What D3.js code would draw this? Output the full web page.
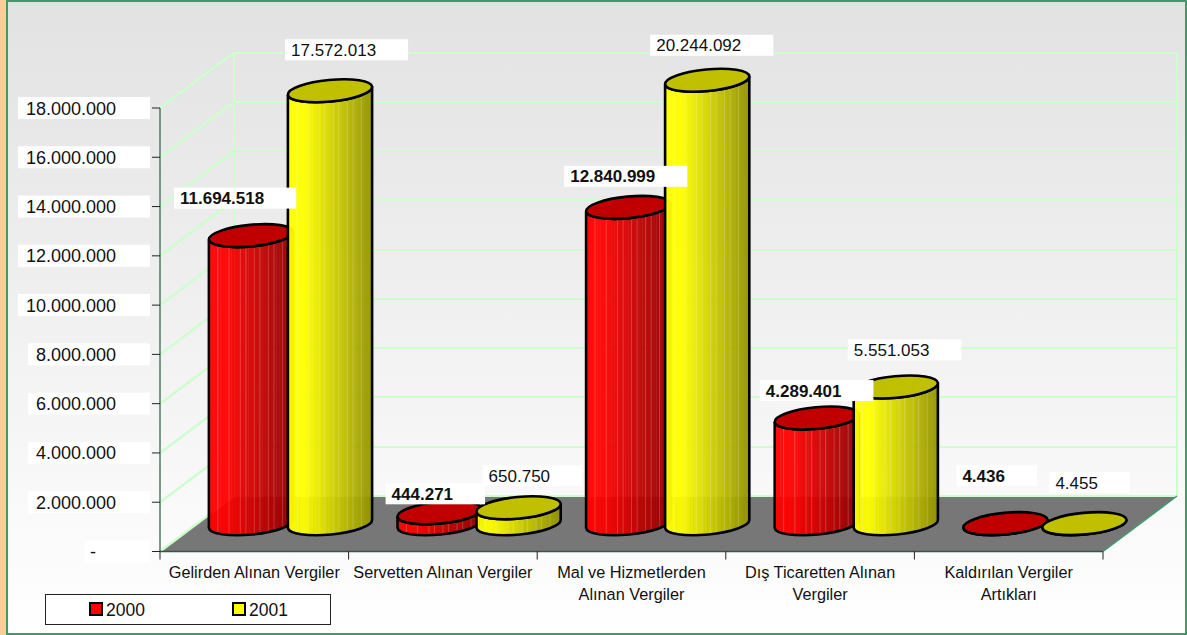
<!DOCTYPE html>
<html>
<head>
<meta charset="utf-8">
<script src="https://cdnjs.cloudflare.com/ajax/libs/d3/7.8.5/d3.min.js"></script>
<style>
  html, body { margin: 0; padding: 0; background: #fff; }
  text { font-family: "Liberation Sans", Arial, sans-serif; fill: #111; }
</style>
</head>
<body>
<div id="wrapper"></div>
<script>
// DATA
const categories = [
  ["Gelirden Alınan Vergiler"],
  ["Servetten Alınan Vergiler"],
  ["Mal ve Hizmetlerden", "Alınan Vergiler"],
  ["Dış Ticaretten Alınan", "Vergiler"],
  ["Kaldırılan Vergiler", "Artıkları"]
]
const series = ["2000", "2001"]
const values2000 = [11694518, 444271, 12840999, 4289401, 4436]
const values2001 = [17572013, 650750, 20244092, 5551053, 4455]
const yTicks = [0, 2000000, 4000000, 6000000, 8000000, 10000000, 12000000, 14000000, 16000000, 18000000]

// label boxes were dragged by hand in the original, so they sit off the bar tops
// [box left from bar centre, box middle from bar top]
const labelOffsets2000 = [[-77, -37.5], [-54, -19], [-64, -31], [-57, -27.5], [-49, -48]]
const labelOffsets2001 = [[-45, -41], [-36, -32], [-57, -35], [-48, -37], [-35, -41]]

// Dimensions
const dimensions = { width: 1187, height: 635, left: 160, right: 1103, top: 108, bottom: 551.5, depthX: 74, depthY: 55.5 }

const svg = d3.select("#wrapper").append("svg")
  .attr("width", dimensions.width)
  .attr("height", dimensions.height)
  .style("display", "block")

const defs = svg.append("defs")
const bgGradient = defs.append("linearGradient").attr("id", "bg").attr("x1", 0).attr("x2", 0).attr("y1", 0).attr("y2", 1)
bgGradient.append("stop").attr("offset", "0%").attr("stop-color", "#e2e2e2")
bgGradient.append("stop").attr("offset", "100%").attr("stop-color", "#ffffff")

// Frame
svg.append("rect").attr("width", 6).attr("height", dimensions.height).attr("fill", "#ffcc99")
svg.append("rect")
  .attr("x", 7).attr("y", 1)
  .attr("width", 1179).attr("height", 633)
  .attr("fill", "url(#bg)")
  .attr("stroke", "#3d9b6e")
  .attr("stroke-width", 2)

// Scales
const yScale = d3.scaleLinear()
  .domain([0, 18000000])
  .range([dimensions.bottom, dimensions.top])
  .clamp(true)   // 20.244.092 is cut off at the axis maximum
const xScale = d3.scaleBand()
  .domain(d3.range(categories.length))
  .range([dimensions.left, dimensions.right])
const seriesScale = d3.scaleBand()
  .domain(series)
  .range([51.5, 209.5])

const wallTop = yScale(18000000) - dimensions.depthY
const wallBottom = yScale(0) - dimensions.depthY

// FLOOR
svg.append("path")
  .attr("fill", "#777777")
  .attr("d", d3.line()([
    [dimensions.left, dimensions.bottom],
    [dimensions.left + dimensions.depthX, wallBottom],
    [dimensions.right + dimensions.depthX, wallBottom],
    [dimensions.right, dimensions.bottom]
  ]) + "Z")

// WALLS
const grid = svg.append("g").attr("fill", "none").attr("stroke", "#ccffcc").attr("stroke-width", 2)
yTicks.forEach(t => {
  const y = yScale(t)
  grid.append("line")
    .attr("x1", dimensions.left).attr("y1", y)
    .attr("x2", dimensions.left + dimensions.depthX).attr("y2", y - dimensions.depthY)
    .attr("stroke-width", 2.4)
  grid.append("line")
    .attr("x1", dimensions.left + dimensions.depthX).attr("y1", Math.round(y - dimensions.depthY))
    .attr("x2", dimensions.right + dimensions.depthX).attr("y2", Math.round(y - dimensions.depthY))
    .attr("shape-rendering", "crispEdges")
})
grid.append("line")
  .attr("x1", dimensions.left + dimensions.depthX).attr("x2", dimensions.left + dimensions.depthX)
  .attr("y1", wallTop).attr("y2", wallBottom)
  .attr("shape-rendering", "crispEdges")
grid.append("line")
  .attr("x1", dimensions.right + dimensions.depthX).attr("x2", dimensions.right + dimensions.depthX)
  .attr("y1", wallTop).attr("y2", wallBottom)
  .attr("shape-rendering", "crispEdges")
svg.append("line")
  .attr("x1", dimensions.right).attr("y1", dimensions.bottom)
  .attr("x2", dimensions.right + dimensions.depthX).attr("y2", wallBottom)
  .attr("stroke", "#3d9b6e").attr("stroke-width", 1.5)

// AXES
const yAxis = svg.append("g")
yAxis.append("line")
  .attr("x1", dimensions.left).attr("x2", dimensions.left)
  .attr("y1", dimensions.top).attr("y2", dimensions.bottom)
  .attr("stroke", "#4f7a62").attr("stroke-width", 1.5)
const formatTick = d => d === 0 ? "-" : d3.format(",")(d).replace(/,/g, ".")
yTicks.forEach(t => {
  const y = yScale(t)
  const g = yAxis.append("g")
  const label = g.append("text")
    .attr("x", t === 0 ? 96 : 116).attr("y", y + 6.5)
    .attr("text-anchor", "end")
    .attr("font-size", 18)
    .text(formatTick(t))
  const box = label.node().getBBox()
  g.insert("rect", "text")
    .attr("x", t === 0 ? 84 : box.x - 8).attr("y", y - 11)
    .attr("width", t === 0 ? 66 : 150 - box.x + 8).attr("height", 22)
    .attr("fill", "#fff")
  g.append("line")
    .attr("x1", 152).attr("x2", dimensions.left)
    .attr("y1", y).attr("y2", y)
    .attr("stroke", "#222").attr("stroke-width", 1)
})

const xAxis = svg.append("g")
xAxis.append("line")
  .attr("x1", dimensions.left).attr("x2", dimensions.right)
  .attr("y1", dimensions.bottom).attr("y2", dimensions.bottom)
  .attr("stroke", "#35574a").attr("stroke-width", 1.5)
d3.range(categories.length + 1).forEach(i => {
  const x = i < categories.length ? xScale(i) : dimensions.right
  xAxis.append("line")
    .attr("x1", x).attr("x2", x)
    .attr("y1", dimensions.bottom).attr("y2", dimensions.bottom + 8)
    .attr("stroke", "#222").attr("stroke-width", 1)
})
categories.forEach((lines, i) => {
  lines.forEach((line, j) => {
    xAxis.append("text")
      .attr("x", xScale(i) + xScale.bandwidth() / 2)
      .attr("y", 578 + j * 22)
      .attr("text-anchor", "middle")
      .attr("font-size", 16.3)
      .text(line)
  })
})

// CYLINDERS
const rx = 42.3, ry = 10.8, tilt = 5.5
const cosT = Math.cos(tilt * Math.PI / 180), sinT = Math.sin(tilt * Math.PI / 180)
const seriesColors = {
  "2000": { bright: "#ff0000", dark: "#8c0000", top: "#c00000" },
  "2001": { bright: "#ffff00", dark: "#8f8f00", top: "#c0c000" }
}
const stripCount = 30
// thin pale lines that show in the shading of the original
const paleStrips = [3, 7, 11, 13, 16, 18, 21, 23, 26]

function drawCylinder(value, i, s) {
  const cx = xScale(i) + seriesScale(s) + seriesScale.bandwidth() / 2
  const topY = yScale(value) - dimensions.depthY / 2
  const baseY = yScale(0) - dimensions.depthY / 2
  const colors = seriesColors[s]
  const shade = d3.scaleLinear().domain([0, 0.18, 1]).range([colors.bright, colors.bright, colors.dark])
  const dx = rx * cosT, dy = rx * sinT
  const body = `M${cx - dx},${topY + dy} L${cx - dx},${baseY + dy}`
    + ` A${rx},${ry} ${-tilt} 0 0 ${cx + dx},${baseY - dy}`
    + ` L${cx + dx},${topY - dy}`
    + ` A${rx},${ry} ${-tilt} 0 1 ${cx - dx},${topY + dy} Z`
  const clipId = `clip-${i}-${s}`
  defs.append("clipPath").attr("id", clipId).append("path").attr("d", body)

  const g = svg.append("g")
  const stripsG = g.append("g").attr("clip-path", `url(#${clipId})`).attr("opacity", 0.95)
  const stripW = 2 * dx / stripCount
  d3.range(stripCount).forEach(k => {
    stripsG.append("rect")
      .attr("x", cx - dx + k * stripW).attr("y", topY - rx)
      .attr("width", stripW + 0.5).attr("height", baseY - topY + 2 * rx)
      .attr("fill", shade(k / stripCount))
  })
  paleStrips.forEach(k => {
    stripsG.append("rect")
      .attr("x", cx - dx + k * stripW).attr("y", topY - rx)
      .attr("width", 1).attr("height", baseY - topY + 2 * rx)
      .attr("fill", "#fff").attr("opacity", 0.2)
  })
  g.append("path").attr("d", body).attr("fill", "none").attr("stroke", "#000").attr("stroke-width", 2.6)
  g.append("ellipse")
    .attr("rx", rx).attr("ry", ry)
    .attr("transform", `translate(${cx},${topY}) rotate(${-tilt})`)
    .attr("fill", colors.top).attr("stroke", "#000").attr("stroke-width", 2.6)
}

categories.forEach((c, i) => {
  drawCylinder(values2000[i], i, "2000")
  drawCylinder(values2001[i], i, "2001")
})

// DATA LABELS
const formatValue = d => d3.format(",")(d).replace(/,/g, ".")
function drawLabel(value, i, s, offset, bold) {
  const cx = xScale(i) + seriesScale(s) + seriesScale.bandwidth() / 2
  const topY = yScale(value) - dimensions.depthY / 2
  const boxX = cx + offset[0], midY = topY + offset[1]
  const g = svg.append("g")
  const label = g.append("text")
    .attr("x", boxX + 6).attr("y", midY + 6)
    .attr("font-size", 17)
    .attr("font-weight", bold ? "bold" : "normal")
    .text(formatValue(value))
  const w = label.node().getBBox().width
  g.insert("rect", "text")
    .attr("x", boxX).attr("y", midY - 10.5)
    .attr("width", w + 38).attr("height", 21)
    .attr("fill", "#fff")
}
categories.forEach((c, i) => {
  drawLabel(values2000[i], i, "2000", labelOffsets2000[i], true)
})
categories.forEach((c, i) => {
  drawLabel(values2001[i], i, "2001", labelOffsets2001[i], false)
})

// LEGEND
const legend = svg.append("g")
legend.append("rect")
  .attr("x", 45.5).attr("y", 594.5).attr("width", 285).attr("height", 30)
  .attr("fill", "#fff").attr("stroke", "#222").attr("stroke-width", 1)
const legendX = d3.scalePoint().domain(series).range([90, 233])
series.forEach(s => {
  legend.append("rect")
    .attr("x", legendX(s)).attr("y", 603).attr("width", 12).attr("height", 12)
    .attr("fill", seriesColors[s].bright).attr("stroke", "#000").attr("stroke-width", 2)
  legend.append("text")
    .attr("x", legendX(s) + 16).attr("y", 615.5)
    .attr("font-size", 17.5)
    .text(s)
})
</script>
</body>
</html>
